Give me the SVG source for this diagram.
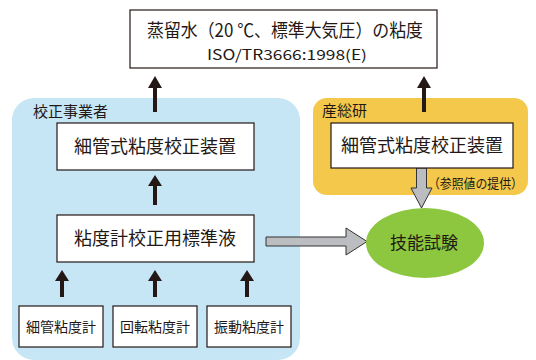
<svg xmlns="http://www.w3.org/2000/svg" width="536" height="360" viewBox="0 0 536 360">
<defs>
<style>
text{font-family:"Noto Sans CJK JP","Noto Sans",sans-serif;fill:#231815;text-anchor:middle}
.box{fill:#fff;stroke:#231815;stroke-width:1.2}
.blk{fill:#231815}
.gry{fill:#bcbdc1;stroke:#333;stroke-width:1}
</style>
</defs>
<rect x="12" y="98" width="288" height="262" rx="22" fill="#c6e6f6"/>
<rect x="313" y="98" width="215" height="97" rx="14" fill="#f3c84b"/>
<text x="33" y="117" font-size="15" style="text-anchor:start">校正事業者</text>
<text x="322" y="116" font-size="15" style="text-anchor:start">産総研</text>
<g id="connectors">
<path class="blk" d="M153,112 V88 H148 L155,76 L162,88 H157 V112 Z"/>
<path class="blk" d="M422,112 V88 H417 L424,76 L431,88 H426 V112 Z"/>
<path class="blk" d="M153,205 V186 H148 L155,175 L162,186 H157 V205 Z"/>
<path class="blk" d="M60,297 V281 H55 L62,270 L69,281 H64 V297 Z"/>
<path class="blk" d="M153,297 V281 H148 L155,270 L162,281 H157 V297 Z"/>
<path class="blk" d="M245,297 V281 H240 L247,270 L254,281 H249 V297 Z"/>
<path class="gry" d="M416.5,168 V188 H411 L421.5,208 L432,188 H426.5 V168 Z"/>
<path class="gry" d="M266,237 H346 V228 L367,241.5 L346,255 V246 H266 Z"/>
<text x="475.5" y="188" font-size="13" textLength="95" lengthAdjust="spacingAndGlyphs">（参照値の提供）</text>
</g>
<g id="n-top">
<rect class="box" x="130" y="10" width="307" height="58"/>
<text x="285" y="37" font-size="18" textLength="276" lengthAdjust="spacingAndGlyphs">蒸留水（20 ℃、標準大気圧）の粘度</text>
<text x="287" y="60" font-size="14" textLength="160" lengthAdjust="spacingAndGlyphs">ISO/TR3666:1998(E)</text>
</g>
<g id="n-dev1">
<rect class="box" x="57" y="123" width="197" height="47"/>
<text x="155" y="153" font-size="18">細管式粘度校正装置</text>
</g>
<g id="n-liquid">
<rect class="box" x="57" y="215" width="197" height="47"/>
<text x="155" y="245" font-size="18">粘度計校正用標準液</text>
</g>
<g id="n-m1">
<rect class="box" x="19" y="306" width="84" height="41"/>
<text x="61" y="332" font-size="14">細管粘度計</text>
</g>
<g id="n-m2">
<rect class="box" x="113" y="306" width="84" height="41"/>
<text x="155" y="332" font-size="14">回転粘度計</text>
</g>
<g id="n-m3">
<rect class="box" x="207" y="306" width="84" height="41"/>
<text x="249" y="332" font-size="14">振動粘度計</text>
</g>
<g id="n-dev2">
<rect class="box" x="331" y="123" width="182" height="45"/>
<text x="422" y="152" font-size="18">細管式粘度校正装置</text>
</g>
<g id="n-test">
<ellipse cx="425" cy="243" rx="59" ry="35" fill="#8dc63f"/>
<text x="424" y="249" font-size="17">技能試験</text>
</g>
</svg>
